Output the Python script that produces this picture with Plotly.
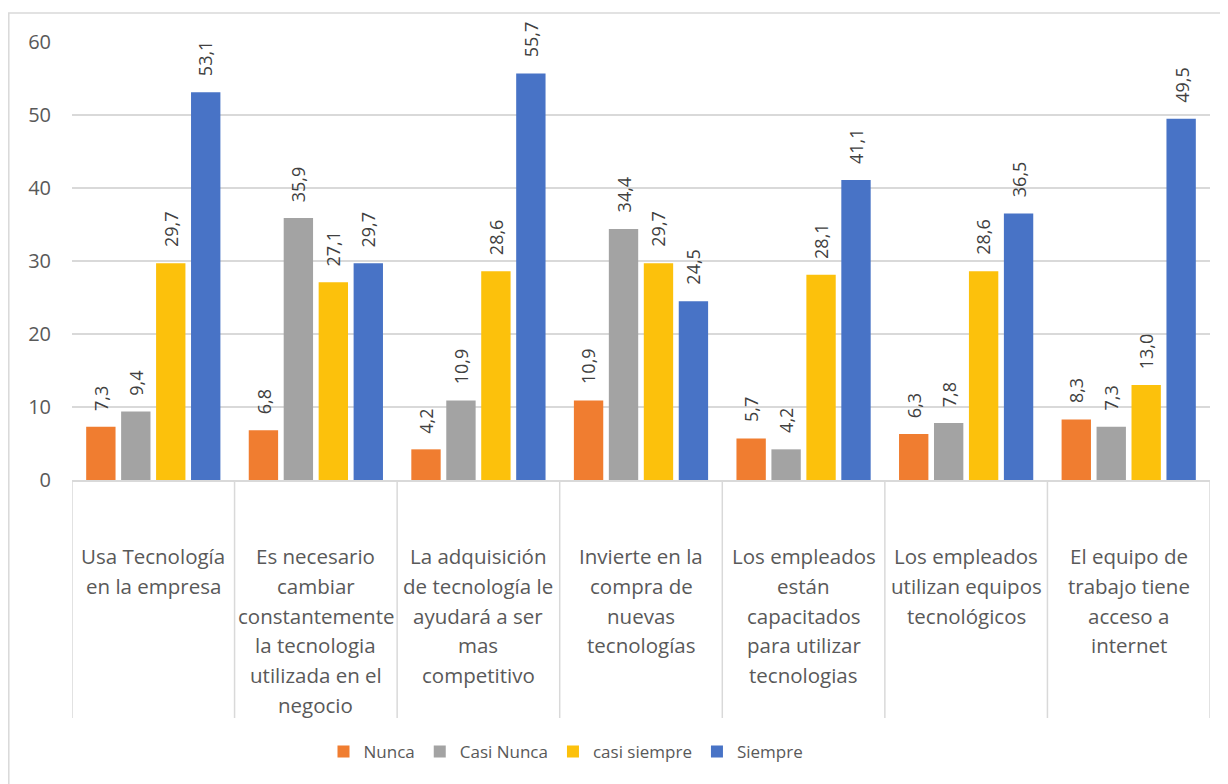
import plotly.graph_objects as go

categories = [
    "Usa Tecnología<br>en la empresa",
    "Es necesario<br>cambiar<br>constantemente<br>la tecnologia<br>utilizada en el<br>negocio",
    "La adquisición<br>de tecnología le<br>ayudará a ser<br>mas<br>competitivo",
    "Invierte en la<br>compra de<br>nuevas<br>tecnologías",
    "Los empleados<br>están<br>capacitados<br>para utilizar<br>tecnologias",
    "Los empleados<br>utilizan equipos<br>tecnológicos",
    "El equipo de<br>trabajo tiene<br>acceso a<br>internet",
]
series_names = ["Nunca", "Casi Nunca", "casi siempre", "Siempre"]
nunca = [7.3, 6.8, 4.2, 10.9, 5.7, 6.3, 8.3]
casi_nunca = [9.4, 35.9, 10.9, 34.4, 4.2, 7.8, 7.3]
casi_siempre = [29.7, 27.1, 28.6, 29.7, 28.1, 28.6, 13.0]
siempre = [53.1, 29.7, 55.7, 24.5, 41.1, 36.5, 49.5]
y_ticks = [0, 10, 20, 30, 40, 50, 60]

series_values = [nunca, casi_nunca, casi_siempre, siempre]
colors = ["#F07D30", "#A3A3A3", "#FCC10C", "#4873C6"]

# page body has an 8px margin: figure origin sits at (8, 8) in the window
OFF = 8
W, H = 1228 - OFF, 784 - OFF
ML = 72 - OFF
MT = 42 - OFF
PLOT_RIGHT = 1210 - OFF
PLOT_BOTTOM = 480 - OFF
MR = W - PLOT_RIGHT
MB = H - PLOT_BOTTOM
PW = W - ML - MR
PH = H - MT - MB

cat_ids = list(range(len(categories)))

fig = go.Figure()
for name, vals, col in zip(series_names, series_values, colors):
    fig.add_trace(go.Bar(
        x=cat_ids, y=vals, name=name,
        marker=dict(color=col, line=dict(width=0)),
        hoverinfo="y+name",
    ))

FONT = "Open Sans"
annotations = []
# data labels
slot = 35
for j, vals in enumerate(series_values):
    for i, v in enumerate(vals):
        annotations.append(dict(
            x=i, y=v, xref="x", yref="y",
            text=f"{v:.1f}".replace(".", ","),
            showarrow=False, textangle=-90,
            xanchor="center", yanchor="bottom",
            xshift=(j - 1.5) * slot, yshift=14,
            font=dict(family=FONT, size=18, color="#404040"),
        ))

# category labels (line by line)
line_gap = 29.8
first_line = 556 - 480
for i, lab in enumerate(categories):
    for k, line in enumerate(lab.split("<br>")):
        annotations.append(dict(
            x=i, xref="x", y=0, yref="paper",
            text=line, showarrow=False,
            xanchor="center", yanchor="middle",
            yshift=-(first_line + k * line_gap),
            font=dict(family=FONT, size=20.5, color="#595959"),
        ))

shapes = []
# category separators
bottom = (480 - 718) / PH
for b in range(len(categories) + 1):
    shapes.append(dict(
        type="line", xref="x", yref="paper",
        x0=b - 0.5, x1=b - 0.5, y0=0, y1=bottom,
        line=dict(color="#D9D9D9", width=1.5),
    ))
# outer chart border
shapes.append(dict(
    type="rect", xref="paper", yref="paper",
    x0=(0.8 - ML) / PW, x1=(W + 20 - ML) / PW,
    y0=(PLOT_BOTTOM - (H + 20)) / PH, y1=(PLOT_BOTTOM - 5) / PH,
    line=dict(color="#D9D9D9", width=1.5),
    fillcolor="rgba(0,0,0,0)", layer="below",
))

legend_center_px = 566 - OFF
fig.update_layout(
    width=W, height=H,
    margin=dict(l=ML, r=MR, t=MT, b=MB),
    paper_bgcolor="white", plot_bgcolor="white",
    barmode="group", bargap=0.14, bargroupgap=0.16,
    font=dict(family=FONT, color="#595959", size=18),
    xaxis=dict(
        range=[-0.5, len(categories) - 0.5],
        showticklabels=False, showgrid=False, zeroline=False,
        showline=True, linecolor="#D9D9D9", linewidth=1.5,
        tickvals=cat_ids, ticks="",
    ),
    yaxis=dict(
        range=[0, 60], tickvals=y_ticks,
        ticktext=[str(t) for t in y_ticks],
        showgrid=True, gridcolor="#D9D9D9", gridwidth=1.5,
        zeroline=False, showline=False, ticks="",
        ticklabelstandoff=20,
        tickfont=dict(family=FONT, size=20, color="#595959"),
    ),
    legend=dict(
        orientation="h", x=(legend_center_px - ML) / PW, xanchor="center",
        y=(480 - 752) / PH, yanchor="middle",
        font=dict(family=FONT, size=17, color="#595959"),
        itemwidth=30, tracegroupgap=0,
    ),
    annotations=annotations,
    shapes=shapes,
    showlegend=True,
)

fig.write_html("out.html")
